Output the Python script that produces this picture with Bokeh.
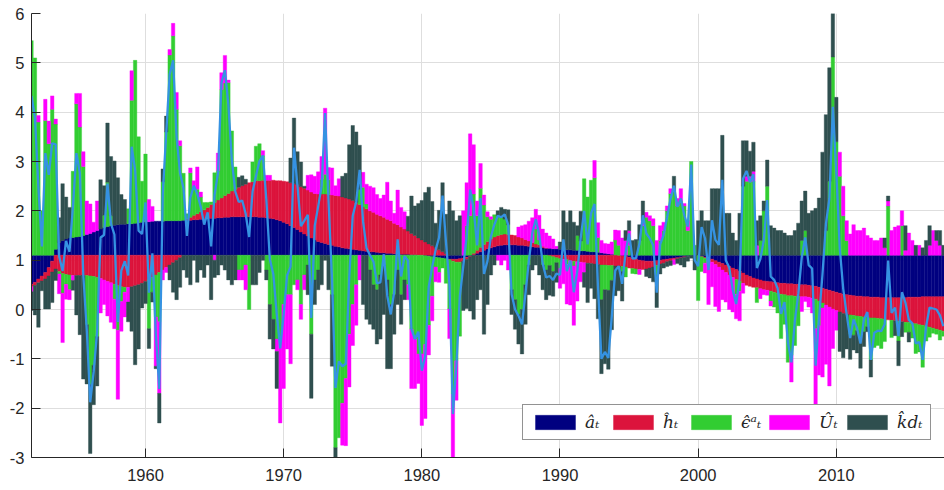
from bokeh.plotting import figure
from bokeh.models import Range1d, FixedTicker, Legend, LegendItem, ColumnDataSource
from bokeh.embed import file_html
from bokeh.resources import INLINE

BASE = 1.1          # level around which the contributions are stacked
START = 1951.75     # first quarter (1951Q4)

year_ticks = [1960, 1970, 1980, 1990, 2000, 2010]
value_ticks = [-3, -2, -1, 0, 1, 2, 3, 4, 5, 6]

# contribution of a_t (quarterly, 1951Q4 .. 2017Q4)
a_hat = [
    -0.59,
    -0.55, -0.48, -0.42, -0.35, -0.25, -0.12, 0.12, 0.26, 0.30, 0.33, 0.35, 0.36,
    0.37, 0.38, 0.40, 0.42, 0.44, 0.47, 0.50, 0.53, 0.56, 0.58, 0.60, 0.61,
    0.62, 0.63, 0.63, 0.64, 0.64, 0.65, 0.66, 0.67, 0.68, 0.68, 0.69, 0.69,
    0.69, 0.69, 0.70, 0.70, 0.70, 0.70, 0.70, 0.71, 0.71, 0.71, 0.72, 0.72,
    0.73, 0.73, 0.74, 0.75, 0.75, 0.76, 0.76, 0.77, 0.77, 0.78, 0.78, 0.78,
    0.78, 0.78, 0.78, 0.78, 0.78, 0.77, 0.77, 0.76, 0.75, 0.74, 0.72, 0.70,
    0.67, 0.64, 0.60, 0.56, 0.52, 0.47, 0.43, 0.39, 0.35, 0.31, 0.28, 0.26,
    0.24, 0.22, 0.20, 0.18, 0.17, 0.15, 0.14, 0.13, 0.12, 0.11, 0.10, 0.09,
    0.08, 0.07, 0.07, 0.06, 0.05, 0.05, 0.04, 0.04, 0.03, 0.03, 0.02, 0.02,
    0.02, 0.01, 0.01, 0.00, 0.00, -0.01, -0.02, -0.03, -0.04, -0.05, -0.06, -0.07,
    -0.08, -0.08, -0.08, -0.07, -0.06, -0.04, -0.02, 0.01, 0.04, 0.07, 0.10, 0.13,
    0.15, 0.17, 0.19, 0.20, 0.21, 0.21, 0.21, 0.21, 0.20, 0.20, 0.19, 0.18,
    0.17, 0.16, 0.16, 0.15, 0.14, 0.14, 0.13, 0.13, 0.12, 0.12, 0.11, 0.11,
    0.10, 0.10, 0.09, 0.09, 0.08, 0.07, 0.07, 0.06, 0.05, 0.04, 0.03, 0.02,
    0.01, 0.00, -0.01, -0.02, -0.04, -0.06, -0.08, -0.10, -0.11, -0.12, -0.12, -0.12,
    -0.11, -0.10, -0.09, -0.08, -0.07, -0.06, -0.05, -0.04, -0.03, -0.02, -0.01, 0.00,
    0.00, -0.02, -0.04, -0.06, -0.08, -0.11, -0.14, -0.17, -0.20, -0.23, -0.26, -0.29,
    -0.32, -0.36, -0.40, -0.43, -0.46, -0.48, -0.50, -0.52, -0.53, -0.54, -0.55, -0.56,
    -0.57, -0.57, -0.58, -0.58, -0.59, -0.59, -0.60, -0.60, -0.61, -0.62, -0.63, -0.65,
    -0.67, -0.69, -0.71, -0.73, -0.75, -0.77, -0.79, -0.80, -0.81, -0.82, -0.83, -0.83,
    -0.84, -0.84, -0.85, -0.85, -0.85, -0.86, -0.86, -0.86, -0.86, -0.86, -0.86, -0.86,
    -0.86, -0.85, -0.85, -0.85, -0.85, -0.84, -0.84, -0.84, -0.84, -0.84, -0.84, -0.84,
]

# contribution of h_t
h_hat = [
    -0.05,
    -0.06, -0.08, -0.10, -0.13, -0.17, -0.22, -0.28, -0.33, -0.37, -0.39, -0.40, -0.41,
    -0.41, -0.41, -0.41, -0.41, -0.42, -0.43, -0.45, -0.47, -0.50, -0.53, -0.56, -0.59,
    -0.62, -0.64, -0.65, -0.65, -0.64, -0.62, -0.60, -0.57, -0.53, -0.49, -0.45, -0.40,
    -0.35, -0.30, -0.25, -0.20, -0.15, -0.10, -0.05, 0.00, 0.03, 0.06, 0.09, 0.12,
    0.15, 0.19, 0.23, 0.28, 0.32, 0.36, 0.40, 0.44, 0.48, 0.52, 0.56, 0.60,
    0.63, 0.66, 0.69, 0.71, 0.73, 0.74, 0.75, 0.76, 0.77, 0.78, 0.79, 0.81,
    0.83, 0.85, 0.87, 0.89, 0.91, 0.92, 0.93, 0.93, 0.93, 0.94, 0.96, 0.98,
    1.00, 1.01, 1.02, 1.03, 1.03, 1.03, 1.02, 1.01, 0.99, 0.96, 0.93, 0.89,
    0.86, 0.83, 0.80, 0.77, 0.75, 0.72, 0.69, 0.66, 0.62, 0.59, 0.55, 0.51,
    0.47, 0.43, 0.39, 0.35, 0.31, 0.27, 0.23, 0.19, 0.15, 0.11, 0.07, 0.03,
    -0.01, -0.04, -0.06, -0.07, -0.06, -0.04, -0.01, 0.03, 0.06, 0.09, 0.12, 0.15,
    0.18, 0.20, 0.21, 0.22, 0.22, 0.21, 0.20, 0.19, 0.17, 0.15, 0.13, 0.11,
    0.09, 0.07, 0.05, 0.03, 0.01, -0.01, -0.03, -0.05, -0.07, -0.08, -0.09, -0.11,
    -0.12, -0.13, -0.14, -0.15, -0.16, -0.17, -0.18, -0.19, -0.20, -0.20, -0.21, -0.21,
    -0.22, -0.22, -0.22, -0.22, -0.22, -0.21, -0.20, -0.19, -0.18, -0.16, -0.14, -0.12,
    -0.10, -0.08, -0.07, -0.05, -0.04, -0.03, -0.02, -0.01, -0.01, 0.00, 0.00, 0.00,
    0.00, -0.01, -0.02, -0.04, -0.06, -0.08, -0.10, -0.13, -0.15, -0.17, -0.19, -0.20,
    -0.21, -0.21, -0.21, -0.20, -0.19, -0.18, -0.18, -0.18, -0.18, -0.19, -0.20, -0.21,
    -0.22, -0.23, -0.24, -0.24, -0.24, -0.24, -0.24, -0.24, -0.24, -0.25, -0.26, -0.28,
    -0.30, -0.32, -0.34, -0.36, -0.37, -0.38, -0.39, -0.40, -0.40, -0.40, -0.40, -0.41,
    -0.41, -0.41, -0.42, -0.42, -0.43, -0.43, -0.44, -0.45, -0.46, -0.47, -0.48, -0.49,
    -0.50, -0.51, -0.53, -0.54, -0.56, -0.58, -0.60, -0.62, -0.64, -0.66, -0.68, -0.70,
]

# contribution of epsilon^a_t
eps_hat = [
    4.35,
    4.00, 2.70, 0.90, 2.73, 2.26, 2.96, 2.54, -0.05, -0.40, -0.20, -0.30, 1.34,
    2.70, 2.22, 1.40, -1.00, -2.20, -1.80, -1.20, 0.00, 0.25, 0.90, 0.20, -0.30,
    -0.90, -0.30, -0.10, 0.30, 2.50, 3.30, 1.74, 0.83, 1.37, -1.00, -0.30, -0.85,
    -1.00, 0.80, 1.80, 3.36, 3.75, 2.26, 1.52, 0.95, 0.10, 0.90, 0.55, 0.50,
    0.30, 0.15, 0.10, 0.05, 0.60, 0.60, 2.20, 2.28, 2.25, 1.22, 0.45, -0.30,
    -0.30, -0.20, -1.10, 0.40, 0.70, 0.75, 0.50, -0.30, -1.00, -1.30, -1.70, -1.70,
    -1.00, -0.80, -0.80, -0.60, -0.50, -1.00, -0.40, -0.20, -1.60, -0.50, -0.30, 0.30,
    0.40, 0.30, -0.80, -3.90, -3.70, -3.00, -2.50, -1.60, -1.00, -0.60, 0.30, 0.40,
    0.10, -0.30, -0.60, -0.70, -0.40, -0.20, -0.50, -1.00, -0.80, -0.30, -0.80, -0.50,
    -0.60, -1.50, -1.70, -2.00, -2.00, -1.80, -1.40, -0.80, -0.20, -0.30, -0.20, -0.50,
    -1.00, -2.70, -2.00, -1.50, 0.00, 0.60, 0.80, 1.20, 0.70, 1.20, 0.80, 0.50,
    0.40, 0.45, 0.40, 0.35, 0.30, 0.20, -0.70, -0.90, -1.20, -1.10, -0.60, -0.20,
    0.00, 0.30, 0.10, -0.20, -0.30, -0.20, -0.30, -0.10, -0.20, 0.00, -0.10, 0.00,
    -0.10, 0.30, 0.20, 1.46, 1.10, 1.45, 1.50, 0.30, -0.70, -0.50, -0.50, -0.30,
    0.30, 0.20, -0.10, -0.20, 0.20, -0.10, -0.10, 0.30, 0.60, 0.77, 0.70, 0.60,
    -0.20, 0.30, 0.50, 0.90, 1.25, 1.30, 1.00, 1.10, 1.00, 0.50, 1.90, 0.20,
    -0.92, -0.30, -0.10, 0.00, 0.00, 0.00, 0.00, 0.00, 0.00, 0.00, 0.00, -0.30,
    -0.20, 1.40, 1.50, 1.50, 1.50, -0.30, 0.30, 0.90, 1.40, -0.20, -0.30, -0.40,
    -0.90, -0.60, -1.35, -1.20, -1.00, -0.60, 0.30, 0.50, 0.00, 0.00, -0.60, -0.50,
    -0.10, 0.50, 1.50, 4.02, 2.30, 1.60, 0.80, 0.30, -0.40, -0.40, -0.30, -0.45,
    -0.30, -0.20, -0.85, -0.60, -0.55, -0.60, -0.45, 1.00, -0.35, 0.00, -0.40, 0.60,
    -0.20, -0.20, -0.30, -0.60, -0.55, -0.85, -0.30, -0.20, -0.10, -0.10, -0.20, -0.10,
]

# contribution of U_t
u_hat = [
    -0.10,
    0.00, 0.13, 0.00, 0.43, 0.46, 0.27, 0.10, -0.40, -1.00, -0.30, -0.20, -0.10,
    0.21, 0.68, 0.30, 0.68, 0.60, 0.20, 0.60, -0.70, -0.50, -0.70, -0.80, -0.60,
    -1.40, -0.60, -0.50, -0.30, 0.60, 0.00, 0.00, 0.00, 0.00, 0.45, 0.30, -1.00,
    -1.45, -0.20, -0.10, 0.11, 0.25, 0.34, 0.10, 0.00, 0.00, 0.10, 0.15, 0.45,
    0.10, 0.00, 0.00, 0.00, -0.10, 0.35, 0.34, 0.56, 0.05, 0.00, 0.00, -0.20,
    -0.20, -0.50, 0.00, 0.00, 0.00, 0.00, 0.10, 0.10, 0.10, 0.00, -0.25, -1.70,
    -1.70, -1.10, -1.40, 0.00, -0.20, -0.30, -0.30, 0.30, 0.35, 0.35, 0.45, 0.46,
    1.34, 0.25, 0.55, 0.20, 0.35, -0.85, -1.36, -1.07, -0.83, -0.82, -0.50, 0.30,
    0.40, 0.50, 0.50, 0.40, 0.35, 0.45, 0.75, 0.40, 0.20, 0.70, 0.40, 0.35,
    -0.30, -1.20, -1.00, -0.60, -1.45, -1.50, -0.60, -0.50, -0.30, -0.20, 0.00, 0.00,
    -0.60, -1.30, -0.80, 0.00, 0.90, 0.87, 1.66, 1.00, 0.30, 0.50, 0.20, 0.10,
    0.05, 0.00, -0.10, -0.20, -0.10, -0.30, 0.00, 0.00, 0.20, 0.25, 0.30, 0.40,
    0.50, 0.40, 0.50, 0.35, 0.30, 0.25, 0.20, 0.05, -0.40, -0.50, -0.80, -0.90,
    -1.20, -0.80, -0.40, -0.20, 0.00, 0.00, 0.35, 0.30, 0.25, 0.20, 0.20, 0.25,
    0.20, 0.30, 0.35, 0.30, 0.30, 0.00, 0.00, -0.10, 0.10, 0.10, 0.10, 0.14,
    0.30, 0.30, 0.17, 0.10, 0.10, -0.10, 0.15, 0.25, 0.05, 0.20, 0.00, 0.00,
    0.00, 0.00, -0.20, -0.90, -0.50, -0.85, -0.90, -0.60, -0.60, -0.70, -0.70, -0.50,
    -0.60, -0.20, 0.10, 0.10, 0.20, 0.20, -0.20, -0.10, -0.10, -0.10, 0.00, 0.00,
    0.00, 0.00, 0.00, -0.55, 0.00, 0.00, -0.30, -0.10, -0.20, -0.30, -1.70, -1.00,
    -1.40, -1.20, -1.60, -0.80, -0.40, 0.49, 0.60, 0.40, 0.43, 0.62, 0.50, 0.50,
    0.55, 0.40, 0.35, 0.30, 0.30, 0.35, 0.15, 0.10, 0.50, 0.57, 0.60, 0.30,
    0.10, 0.45, 0.30, 0.00, 0.20, 0.00, 0.00, 0.20, 0.50, 0.30, 0.20, 0.00,
]

# contribution of kd_t
kd_hat = [
    -0.38,
    -0.60, -0.90, -0.20, -0.61, -0.67, -0.62, -0.23, 0.50, 1.15, 0.85, 0.62, -0.20,
    -0.80, -1.20, -2.10, -1.20, -1.40, -0.80, -1.00, 1.00, 0.60, 1.20, 1.20, 1.30,
    0.95, 0.60, 0.50, -0.40, -0.90, -1.60, -1.30, -0.50, -0.45, -0.40, -0.20, -0.05,
    -0.60, 0.26, 0.32, -0.30, -0.60, -0.80, -0.60, -0.30, -0.45, -0.60, -0.10, -0.55,
    -0.30, -0.45, -0.20, -0.90, -0.35, -0.40, -0.20, -0.30, -0.50, -0.60, -0.50, 0.20,
    0.20, 0.10, 0.00, -0.60, -0.60, -0.35, -0.10, -0.20, -0.70, -0.60, -0.75, 0.00,
    0.00, 0.00, 0.50, 1.33, 0.67, 0.50, 0.04, -0.60, -1.30, -0.50, -0.40, -0.60,
    -0.10, -0.70, -1.45, -0.20, 0.00, 0.42, 0.50, 1.10, 1.52, 1.43, 0.90, -1.00,
    -1.30, -1.10, -0.90, -1.10, -1.30, -1.00, -1.80, -1.30, -0.80, -0.70, -0.60, -0.40,
    0.30, 0.76, 0.60, 0.70, 0.80, 1.00, 1.15, 0.90, 0.50, 0.80, 1.40, 0.80,
    1.10, 0.90, 0.70, 0.80, -1.00, -1.00, -1.10, -1.30, -0.90, -0.70, -1.60, -1.00,
    -0.40, -0.20, 0.10, 0.20, 0.20, 0.30, -0.50, -0.60, -0.60, -0.90, -0.80, -0.60,
    -0.30, -0.20, -0.40, -0.50, -0.60, -0.60, -0.50, -0.40, 0.15, 0.78, 0.56, 0.79,
    0.57, 0.20, 0.60, -0.30, -0.80, -0.50, -0.70, -1.10, -1.50, -1.50, -1.60, -1.00,
    -0.60, -0.50, -0.60, 0.20, 0.20, 0.30, 0.32, 0.32, 0.40, -0.15, -0.20, -0.30,
    -0.65, -0.20, -0.10, -0.10, -0.10, 0.30, -0.10, -0.15, -0.20, -0.10, -0.05, -0.30,
    0.70, 0.90, 0.70, 0.70, 1.35, 1.35, 1.35, 2.43, 0.85, 0.85, 0.45, 0.30,
    0.85, 0.92, 0.72, 0.51, 0.59, 0.50, 0.50, 0.20, 0.53, 0.60, 0.55, 0.50,
    0.50, 0.45, 0.40, 0.40, 0.50, 0.65, 0.80, 0.80, 0.85, 0.90, 0.95, 1.16,
    2.09, 2.35, 2.30, 0.88, 0.90, -0.80, -0.90, -0.70, -0.50, -0.30, -0.45, -0.60,
    -0.30, -0.10, -0.35, 0.00, 0.00, 0.00, 0.20, 0.10, 0.00, -0.30, -0.50, -0.30,
    0.50, -0.20, 0.00, 0.20, 0.00, 0.15, 0.30, 0.40, 0.00, 0.20, 0.30, 0.20,
]

series = [
    ("a", a_hat, "#000080", "\u00e2\u209c"),
    ("h", h_hat, "#DC143C", "\u0125\u209c"),
    ("eps", eps_hat, "#32CD32", "\u03f5\u0302\u1d43\u209c"),
    ("U", u_hat, "#FF00FF", "\u00db\u209c"),
    ("kd", kd_hat, "#2F4F4F", "k\u0302d\u209c"),
]

n = min(len(s[1]) for s in series)
quarters = [START + 0.25 * i for i in range(n)]

# stack positive parts upward from BASE and negative parts downward
pos = [BASE] * n
neg = [BASE] * n
segments = {}
for name, vals, _, _ in series:
    xs, tops, bots = [], [], []
    for i in range(n):
        v = vals[i]
        if v > 0:
            xs.append(quarters[i]); bots.append(pos[i]); tops.append(pos[i] + v)
            pos[i] += v
        elif v < 0:
            xs.append(quarters[i]); tops.append(neg[i]); bots.append(neg[i] + v)
            neg[i] += v
    segments[name] = (xs, tops, bots)

total = [BASE + sum(s[1][i] for s in series) for i in range(n)]

p = figure(width=944, height=490, output_backend="svg", toolbar_location=None,
           x_range=Range1d(1951.75, 2017.83), y_range=Range1d(-3, 6),
           min_border_left=31, min_border_right=0, min_border_top=13, min_border_bottom=33)
p.outline_line_color = None
p.background_fill_color = "white"

legend_items = []
for name, vals, color, label in series:
    xs, tops, bots = segments[name]
    src = ColumnDataSource(dict(x=xs, top=tops, bottom=bots))
    r = p.vbar(x="x", width=0.25, top="top", bottom="bottom", source=src,
               fill_color=color, line_color=color, line_width=0.4)
    legend_items.append(LegendItem(label=label, renderers=[r]))

p.line(quarters, total, line_color="#3592E2", line_width=2.3)

for ax in (p.xaxis[0], p.yaxis[0]):
    ax.axis_line_color = "#262626"
    ax.major_tick_line_color = "#262626"
    ax.major_tick_in = 9
    ax.major_tick_out = 0
    ax.minor_tick_line_color = None
    ax.major_label_text_font = "Liberation Sans"
    ax.major_label_text_font_size = "16.5px"
    ax.major_label_text_color = "#262626"

p.xaxis.ticker = FixedTicker(ticks=year_ticks)
p.xaxis.major_label_overrides = {y: str(y) for y in year_ticks}
p.xaxis.major_label_standoff = 11
p.yaxis.ticker = FixedTicker(ticks=value_ticks)
p.yaxis.major_label_overrides = {v: str(v) for v in value_ticks}
p.yaxis.major_label_standoff = 7

p.xgrid.grid_line_color = "#dedede"
p.ygrid.grid_line_color = "#dedede"

legend = Legend(items=legend_items, orientation="horizontal", location=(491, 17))
legend.glyph_width = 50
legend.glyph_height = 18
legend.label_standoff = 5
legend.spacing = 3
legend.padding = 7
legend.margin = 0
legend.border_line_color = "#262626"
legend.border_line_width = 1
legend.background_fill_alpha = 1
legend.label_text_font = "DejaVu Serif"
legend.label_text_font_style = "italic"
legend.label_text_font_size = "17px"
legend.label_text_color = "#262626"
p.add_layout(legend, "center")

open("out.html", "w").write(file_html(p, INLINE))
